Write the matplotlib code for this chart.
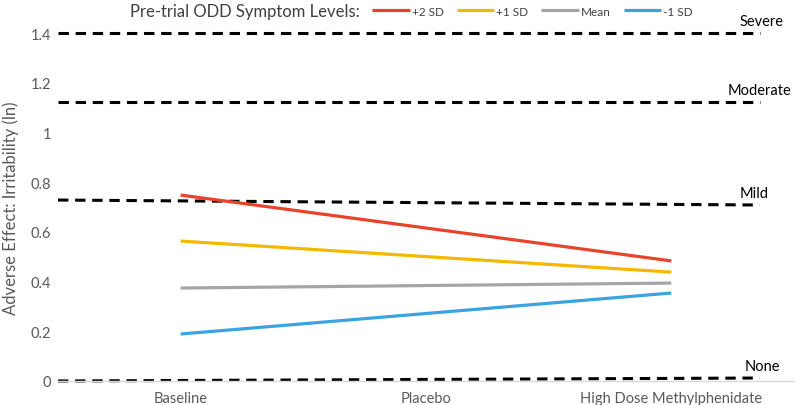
import matplotlib
matplotlib.use("Agg")
import numpy as np
from matplotlib import pyplot as plt

plt.rcParams['font.family'] = ['Lato', 'DejaVu Sans']

# data
conditions = ['Baseline', 'Placebo', 'High Dose Methylphenidate']
series_names = ['+2 SD', '+1 SD', 'Mean', '-1 SD']
series_colors = ['#e8442c', '#f5b800', '#a5a5a5', '#3ba3e0']
measured_at = [0, 2]  # Baseline and High Dose
plus2_sd = [0.748, 0.483]
plus1_sd = [0.563, 0.438]
mean_sd = [0.374, 0.394]
minus1_sd = [0.189, 0.354]

# severity reference lines (left value, right value)
severity_names = ['Severe', 'Moderate', 'Mild', 'None']
severity_left = [1.40, 1.122, 0.728, 0.0]
severity_right = [1.40, 1.122, 0.708, 0.012]
ref_x = [-0.5, 2.36]

yticks = [0, 0.2, 0.4, 0.6, 0.8, 1, 1.2, 1.4]

fig = plt.figure(figsize=(8, 4.06), dpi=100)
ax = fig.add_axes([58 / 800, 24 / 406, 736 / 800, 348 / 406])

for left, right in zip(severity_left, severity_right):
    ax.plot(ref_x, [left, right], color='black', lw=2.2,
            dashes=(3.4, 2.2), clip_on=False, zorder=2)

label_x = [2.28, 2.23, 2.28, 2.30]
for name, x, y in zip(severity_names, label_x, severity_right):
    ax.text(x, y + 0.022, name, fontsize=10.5, color='black',
            ha='left', va='bottom')

all_series = [plus2_sd, plus1_sd, mean_sd, minus1_sd]
lines = []
for vals, name, col in zip(all_series, series_names, series_colors):
    ln, = ax.plot(measured_at, vals, color=col, lw=2.3, label=name,
                  solid_capstyle='butt', zorder=3)
    lines.append(ln)

ax.set_xlim(-0.5, 2.5)
ax.set_ylim(0, 1.4)
ax.set_xticks(range(len(conditions)))
ax.set_xticklabels(conditions)
ax.set_yticks(yticks)
ax.set_yticklabels(['0', '0.2', '0.4', '0.6', '0.8', '1', '1.2', '1.4'])
ax.tick_params(length=0, colors='#595959', labelsize=10.5)
ax.tick_params(axis='x', pad=7)
ax.tick_params(axis='y', pad=5)
for s in ['top', 'right', 'left']:
    ax.spines[s].set_visible(False)
ax.spines['bottom'].set_color('#d9d9d9')
ax.spines['bottom'].set_linewidth(1)
ax.set_ylabel('Adverse Effect: Irritability (ln)', fontsize=12,
              color='#595959', labelpad=8)

fig.text(130 / 800, 1 - 12 / 406, 'Pre-trial ODD Symptom Levels:',
         fontsize=12, color='#404040', ha='left', va='center')
fig.legend(handles=lines, loc='center left',
           bbox_to_anchor=(372 / 800, 1 - 12 / 406), ncol=4, frameon=False,
           fontsize=8.5, handlelength=3.2, handletextpad=0.15,
           columnspacing=1.1, borderaxespad=0, borderpad=0,
           labelcolor='#404040')

plt.savefig('out.png', dpi=100)
